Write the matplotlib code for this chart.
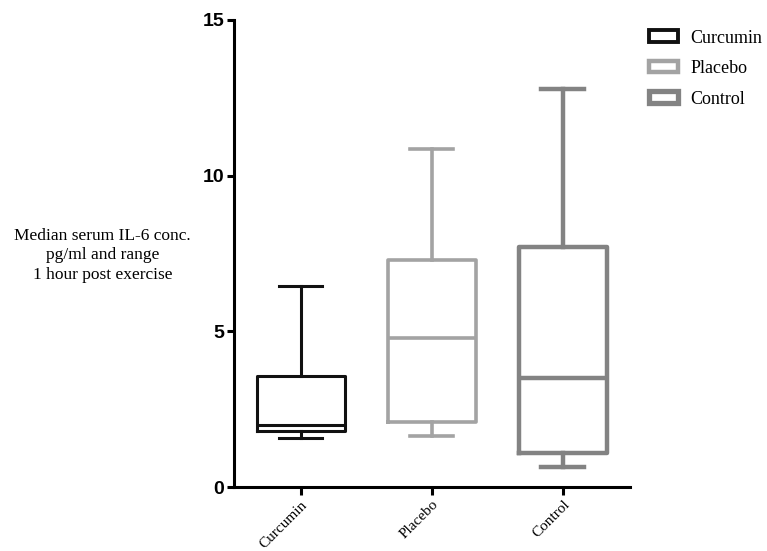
import matplotlib.pyplot as plt
from matplotlib.patches import Patch

# values (pg/ml)
groups = ['Curcumin', 'Placebo', 'Control']
mins = [1.57, 1.63, 0.66]
q1s = [1.79, 2.08, 1.10]
medians = [2.0, 4.8, 3.49]
q3s = [3.58, 7.30, 7.71]
maxs = [6.47, 10.86, 12.78]
colors = ['#111111', '#a3a3a3', '#838383']
widths_lw = [2.2, 2.6, 3.2]

fig = plt.figure(figsize=(7.67, 5.51), dpi=100)
ax = fig.add_axes([0.305, 0.116, 0.516, 0.848])

for i, g in enumerate(groups):
    stats = [{'med': medians[i], 'q1': q1s[i], 'q3': q3s[i],
              'whislo': mins[i], 'whishi': maxs[i], 'fliers': [], 'label': g}]
    props = dict(color=colors[i], linewidth=widths_lw[i])
    ax.bxp(stats, positions=[i + 1], widths=0.67, showfliers=False,
           boxprops=props, whiskerprops=props, capprops=props,
           medianprops=props, capwidths=0.33)

ax.set_xlim(0.49, 3.51)
ax.set_ylim(0, 15)
ax.set_yticks([0, 5, 10, 15])
ax.set_xticks([1, 2, 3])
ax.set_xticklabels(groups, rotation=45, ha='right', rotation_mode='anchor',
                   family='Liberation Serif', fontsize=11)
for lab in ax.get_yticklabels():
    lab.set_family('Liberation Sans')
    lab.set_fontweight('bold')
    lab.set_fontsize(14)

for s in ['top', 'right']:
    ax.spines[s].set_visible(False)
for s in ['left', 'bottom']:
    ax.spines[s].set_linewidth(2.2)
    ax.spines[s].set_color('black')
ax.tick_params(axis='y', length=5, width=2.2, pad=2)
ax.tick_params(axis='x', length=6, width=2.2, pad=2)

fig.text(0.134, 0.537, 'Median serum IL-6 conc.\npg/ml and range\n1 hour post exercise',
         ha='center', va='center', family='Liberation Serif', fontsize=12.5,
         linespacing=1.3)

handles = [Patch(facecolor='white', edgecolor=colors[i], linewidth=widths_lw[i] + 0.6,
                 label=g) for i, g in enumerate(groups)]
fig.legend(handles=handles, loc='upper left', bbox_to_anchor=(0.841, 0.953),
           frameon=False, prop={'family': 'Liberation Serif', 'size': 13},
           handlelength=1.6, handleheight=0.6, labelspacing=0.75, handletextpad=0.7,
           borderaxespad=0.0, borderpad=0.2)

fig.savefig('out.png', dpi=100)
